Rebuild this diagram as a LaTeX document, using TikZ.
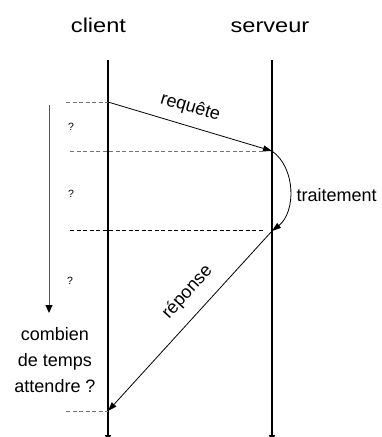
\documentclass[tikz,border=0pt]{standalone}
\usepackage{fontspec}
\setmainfont{Liberation Sans}
\usetikzlibrary{arrows.meta}
\begin{document}
\begin{tikzpicture}[x=1pt,y=-1pt,
  lifeline/.style={line width=1.9pt,-{Triangle[length=6pt,width=6pt]}},
  msg/.style={line width=0.8pt,-{Triangle[length=9pt,width=6pt]}},
  wait/.style={line width=1pt,draw=black!65,-{Triangle[length=8pt,width=7pt,black]}},
  guide/.style={dash pattern=on 4pt off 2.5pt,line width=0.8pt,draw=black!55},
  guidedark/.style={guide,draw=black},
  title/.style={font=\fontsize{20}{24}\selectfont,anchor=base,inner sep=0pt},
  lbl/.style={font=\fontsize{18}{22}\selectfont},
  qmark/.style={font=\fontsize{10.5}{12}\selectfont,inner sep=0pt}]
\useasboundingbox (0,0) rectangle (382,437);

% actors
\node[title] (tclient) at (98.5,32) {\scalebox{1.18}[1]{client}};
\node[title] (tserveur) at (270,32) {\scalebox{1.18}[1]{serveur}};

% lifelines
\coordinate (ctop) at (108,60);
\coordinate (cbot) at (108,441);
\coordinate (stop) at (272,60);
\coordinate (sbot) at (272,441);
\draw[lifeline] (ctop) -- (cbot);
\draw[lifeline] (stop) -- (sbot);

% events
\coordinate (c1) at (108,102);
\coordinate (s1) at (272,151);
\coordinate (s2) at (272,231);
\coordinate (c2) at (108,411);

% time marks
\coordinate (g1) at (66,102);
\coordinate (g2a) at (70,151);
\coordinate (g2b) at (265,151);
\coordinate (g3a) at (70,230);
\coordinate (g3b) at (264,230);
\coordinate (g4) at (66,411);
\draw[guide] (g1) -- (c1);
\draw[guide] (g2a) -- (g2b);
\draw[guidedark] (g3a) -- (g3b);
\draw[guide] (g4) -- (c2);

% messages
\draw[msg] (c1) -- node[lbl,pos=0.47,sloped,above=6pt] (lreq) {requête} (s1);
\draw[msg] (s1) .. controls (296,168) and (296,212) .. (s2);
\node[lbl,anchor=base west,inner sep=0pt] (ltrait) at (296.5,201) {traitement};
\draw[msg] (s2) -- node[lbl,pos=0.42,sloped,above=9pt] (lrep) {réponse} (c2);

% waiting time
\coordinate (wtop) at (49,105);
\coordinate (wbot) at (49,313);
\draw[wait] (wtop) -- (wbot);
\node[qmark] (q1) at (71,127) {?};
\node[qmark] (q2) at (71,194) {?};
\node[qmark] (q3) at (70,281) {?};
\node[lbl,align=center,anchor=base,inner sep=0pt,font=\fontsize{18}{26}\selectfont] (wait) at (55,392.5) {combien\\de temps\\attendre ?};
\end{tikzpicture}
\end{document}
